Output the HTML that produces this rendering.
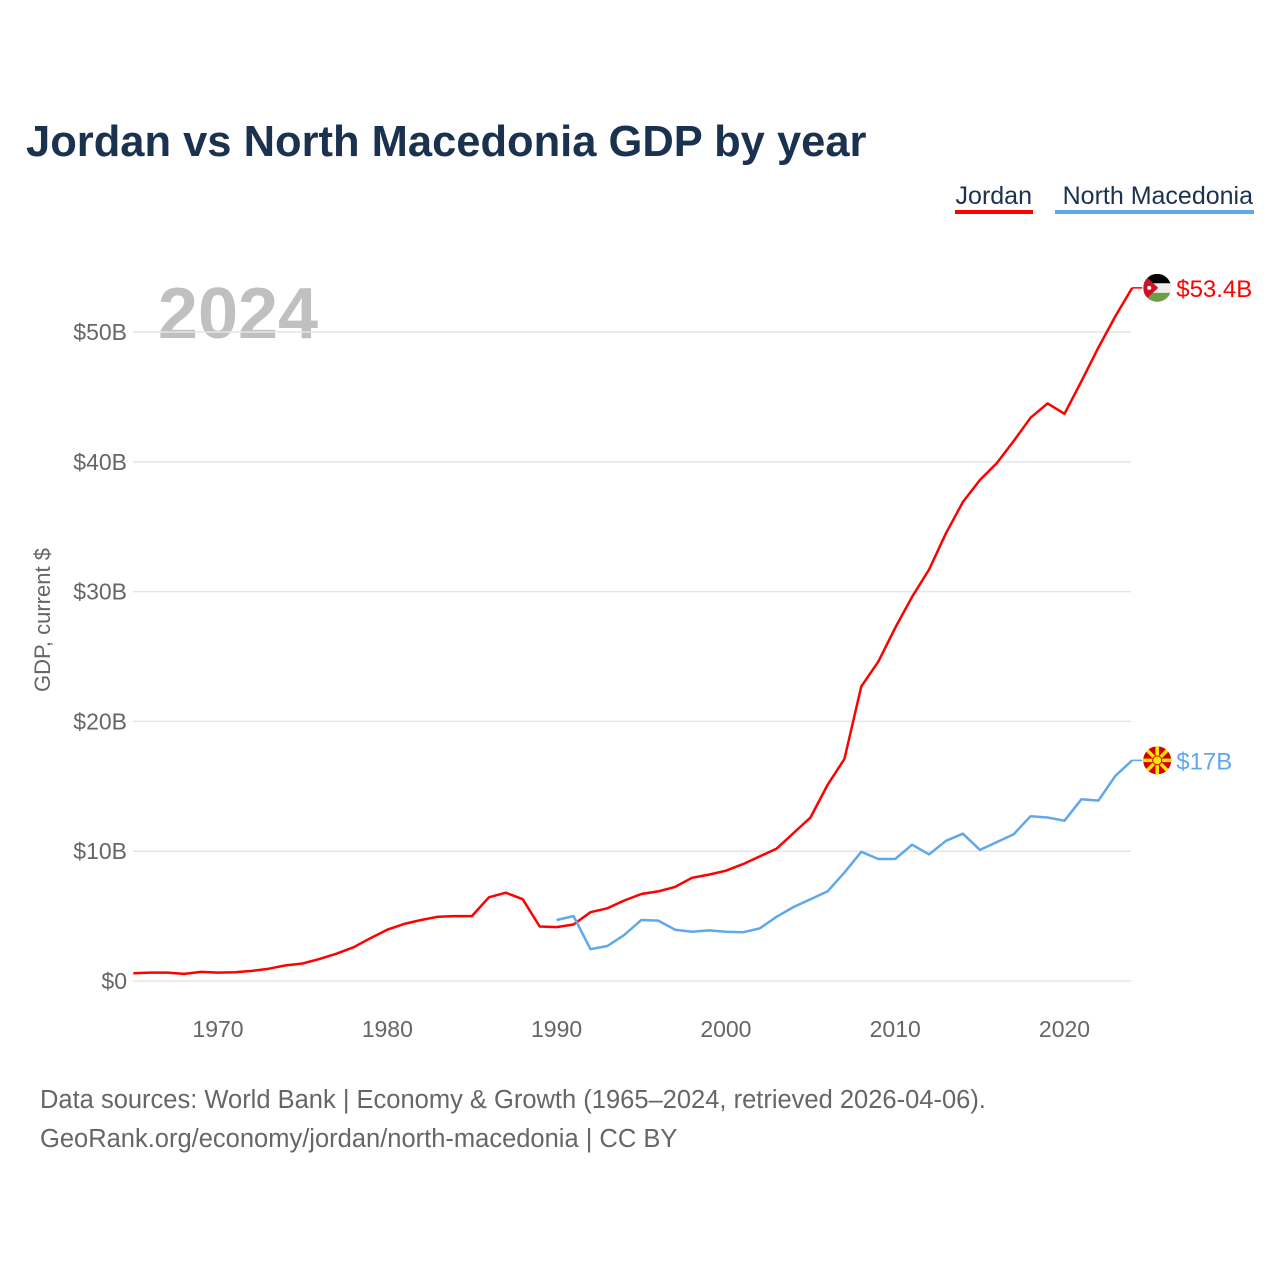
<!DOCTYPE html>
<html><head><meta charset="utf-8"><style>
body{margin:0;background:#fff;font-family:"Liberation Sans",sans-serif}
#wrap{position:relative;width:1280px;height:1280px;overflow:hidden}
</style></head><body>
<div id="wrap">
<svg id="chart" width="1280" height="1280">
<text x="26" y="156" font-size="43.5" font-weight="bold" fill="#1a3150">Jordan vs North Macedonia GDP by year</text>
<g><text x="1032" y="204" text-anchor="end" font-size="25" fill="#1a3150">Jordan</text><rect x="955" y="210" width="78" height="4" fill="#ff0000"/></g>
<g><text x="1253" y="204" text-anchor="end" font-size="25" fill="#1a3150">North Macedonia</text><rect x="1055" y="210" width="199" height="4" fill="#5fa8ec"/></g>
<text x="238" y="338" text-anchor="middle" font-size="72" font-weight="bold" fill="#c0c0c0">2024</text>
<text transform="translate(50,620) rotate(-90)" text-anchor="middle" font-size="22" fill="#666">GDP, current $</text>
<g id="grid"></g><g id="lines"></g>
<text x="40" y="1108" font-size="25.5" fill="#666">Data sources: World Bank | Economy &amp; Growth (1965–2024, retrieved 2026-04-06).</text>
<text x="40" y="1147" font-size="25.5" fill="#666">GeoRank.org/economy/jordan/north-macedonia | CC BY</text>
</svg></div>
<script>
const yTicks=[0,10,20,30,40,50];
const xTicks=[1970,1980,1990,2000,2010,2020];
const jordanStart=1965;
const jordan=[0.6,0.65,0.65,0.55,0.7,0.65,0.68,0.78,0.95,1.2,1.35,1.7,2.1,2.6,3.3,3.95,4.4,4.7,4.95,5.0,5.0,6.45,6.8,6.3,4.2,4.15,4.35,5.3,5.6,6.2,6.7,6.9,7.25,7.95,8.2,8.5,9.0,9.6,10.2,11.4,12.6,15.1,17.1,22.7,24.6,27.2,29.6,31.7,34.5,36.9,38.6,39.9,41.6,43.4,44.5,43.7,46.2,48.8,51.2,53.4];
const mkdStart=1990;
const mkd=[4.7,5.0,2.45,2.7,3.55,4.7,4.65,3.95,3.8,3.9,3.8,3.75,4.05,4.95,5.7,6.3,6.9,8.35,9.95,9.4,9.4,10.5,9.75,10.8,11.35,10.1,10.7,11.3,12.7,12.6,12.35,14.0,13.9,15.8,17.0];
const NS="http://www.w3.org/2000/svg";
const X=yr=>218+(yr-1970)*16.93;
const Y=v=>981-v*12.98;
const grid=document.getElementById('grid'),lines=document.getElementById('lines');
function mk(t,a,p){const e=document.createElementNS(NS,t);for(const k in a)e.setAttribute(k,a[k]);p.appendChild(e);return e;}
yTicks.forEach(v=>{
 const l=mk('line',{x1:133,x2:1131,y1:Y(v),y2:Y(v),stroke:'#e6e6e6','stroke-width':1.5},grid);
 
 
 const t=mk('text',{x:127,y:Y(v)+8,'text-anchor':'end','font-size':23,fill:'#666'},grid);
 t.textContent='$'+v+(v?'B':'');
 
 
});
xTicks.forEach(yr=>{
 const t=mk('text',{x:X(yr),y:1037,'text-anchor':'middle','font-size':23,fill:'#666'},grid);
 t.textContent=yr;
 
 
});
function series(arr,start,color,name){
 const d=arr.map((v,i)=>(i?'L':'M')+X(start+i).toFixed(1)+','+Y(v).toFixed(1)).join('');
 const p=mk('path',{d:d,fill:'none',stroke:color,'stroke-width':2.5,'stroke-linejoin':'round'},lines);
 
 
 const last=arr[arr.length-1],lx=X(start+arr.length-1),ly=Y(last);
 mk('line',{x1:lx,x2:lx+10,y1:ly,y2:ly,stroke:color,'stroke-width':1.5},lines);
 const t=mk('text',{x:lx+44,y:ly+9,'font-size':24,fill:color},lines);
 t.textContent='$'+last+'B';
 
 
 return [lx+25,ly];
}
const [jx,jy]=series(jordan,jordanStart,'#ff0000','jordan');
const [mx,my]=series(mkd,mkdStart,'#5fa8ec','north-macedonia');
const fj=mk('g',{},lines);


const cp=mk('clipPath',{id:'cj'},fj);
mk('circle',{cx:jx,cy:jy,r:14},cp);
const gj=mk('g',{'clip-path':'url(#cj)'},fj);
mk('rect',{x:jx-14,y:jy-14,width:28,height:9.5,fill:'#000'},gj);
mk('rect',{x:jx-14,y:jy-4.5,width:28,height:9.5,fill:'#eee'},gj);
mk('rect',{x:jx-14,y:jy+5,width:28,height:9.5,fill:'#6a9f45'},gj);
mk('polygon',{points:`${jx-14},${jy-14} ${jx+1},${jy} ${jx-14},${jy+14}`,fill:'#ce1126'},gj);
mk('circle',{cx:jx-8,cy:jy,r:2,fill:'#fff'},gj);
const fm=mk('g',{},lines);


mk('circle',{cx:mx,cy:my,r:14,fill:'#d20000'},fm);
for(let a=0;a<8;a++){const an=a*Math.PI/4;
 mk('line',{x1:mx,y1:my,x2:mx+14*Math.cos(an),y2:my+14*Math.sin(an),stroke:'#ffe600','stroke-width':3.5},fm);}
mk('circle',{cx:mx,cy:my,r:4.5,fill:'#ffe600',stroke:'#d20000','stroke-width':1},fm);
</script>
</body></html>
